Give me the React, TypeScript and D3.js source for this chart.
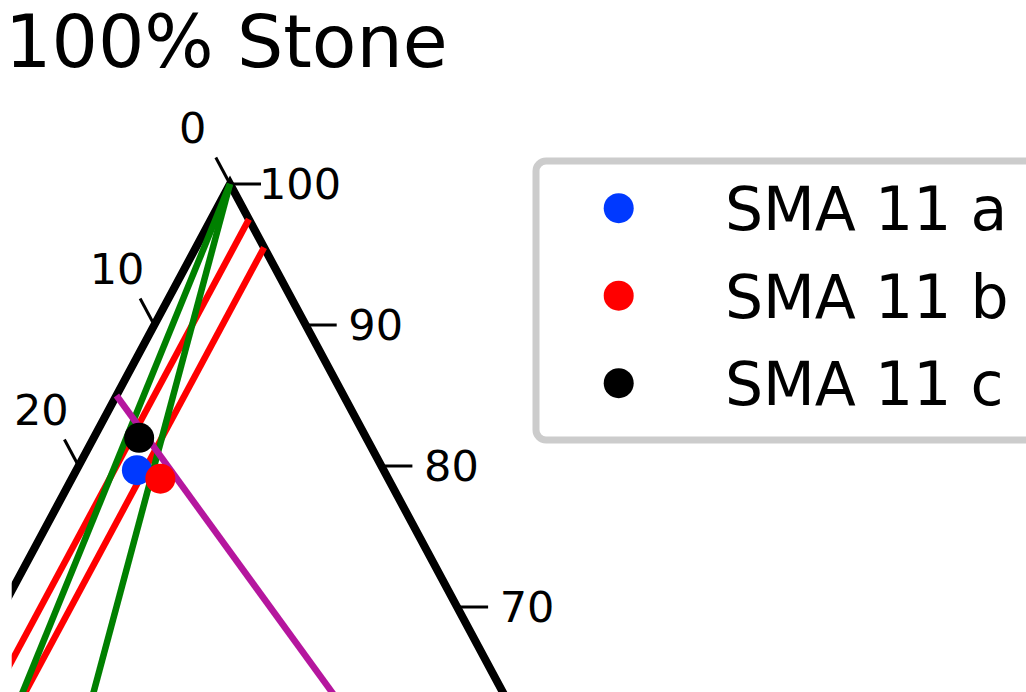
import React from "react";
import * as d3 from "d3";

// ---- data ----
const titleText = "100% Stone";
const sampleNames = ["SMA 11 a", "SMA 11 b", "SMA 11 c"];
const sampleColors = ["#0039ff", "#ff0000", "#000000"];
const sampleStone = [79.7, 79.1, 82.0]; // top component
const sampleLeft = [16.3, 15.1, 15.0]; // left component
const sampleRight = [4.0, 5.9, 3.0]; // right component

// constant right-component lines (red)
const redRightValues = [2.5, 4.5];
// lines from apex to bottom edge (green), right share at the bottom
const greenBottomRight = [12, 25];
// magenta line: from left edge point to right vertex
const magentaStart = { t: 85, l: 15, r: 0 };
const magentaEnd = { t: 0, l: 0, r: 100 };

// visible tick labels
const rightTickValues = [100, 90, 80, 70];
const leftTickValues = [0, 10, 20];

// ---- layout ----
const W = 1026;
const H = 692;
const apexX = 230;
const apexY = 184;
const unitH = 14.1;
const unitW = 7.57;
const clipLeft = 11.7;

const yScale = d3.scaleLinear().domain([100, 0]).range([apexY, apexY + 100 * unitH]);
const xScale = d3.scaleLinear().domain([-100, 100]).range([apexX - 100 * unitW, apexX + 100 * unitW]);
const proj = (t: number, l: number, r: number): [number, number] => [xScale(r - l), yScale(t)];

const line = d3.line<[number, number]>();

const FONT = "DejaVu Sans";

export default function App() {
  const tri = line([proj(100, 0, 0), proj(0, 100, 0), proj(0, 0, 100), proj(100, 0, 0)]) + "Z";
  const norm = Math.hypot(unitW, unitH);
  const ux = -unitW / norm;
  const uy = -unitH / norm;
  const tickLen = 30;

  return (
    <svg
      width={W}
      height={H}
      style={{ position: "absolute", left: 0, top: 0, display: "block", background: "#fff" }}
      fontFamily={FONT}
    >
      <defs>
        <clipPath id="plotClip">
          <rect x={clipLeft} y={0} width={W - clipLeft} height={H} />
        </clipPath>
      </defs>
      <rect x={0} y={0} width={W} height={H} fill="#fff" />
      <text x={5} y={67} fontSize={73} fill="#000">
        {titleText}
      </text>

      {/* ticks on right edge (stone) */}
      {rightTickValues.map((v) => {
        const [ex, ey] = proj(v, 0, 100 - v);
        return (
          <g key={"rt" + v}>
            <line x1={ex} y1={ey} x2={ex + tickLen + 1} y2={ey} stroke="#000" strokeWidth={3} />
            <text x={ex + 70} y={ey} fontSize={43} textAnchor="middle" dominantBaseline="central" fill="#000">
              {v}
            </text>
          </g>
        );
      })}
      {/* ticks on left edge */}
      {leftTickValues.map((v) => {
        const [ex, ey] = proj(100 - v, v, 0);
        return (
          <g key={"lt" + v}>
            <line x1={ex} y1={ey} x2={ex + ux * tickLen} y2={ey + uy * tickLen} stroke="#000" strokeWidth={3} />
            <text
              x={ex + ux * 64 - 7}
              y={ey + uy * 64}
              fontSize={43}
              textAnchor="middle"
              dominantBaseline="central"
              fill="#000"
            >
              {v}
            </text>
          </g>
        );
      })}

      <g clipPath="url(#plotClip)">
        <path d={tri} fill="none" stroke="#000" strokeWidth={8} strokeLinejoin="miter" />
        {redRightValues.map((r) => (
          <path
            key={"r" + r}
            d={line([proj(100 - r, 0, r), proj(0, 100 - r, r)]) || ""}
            stroke="#ff0000"
            strokeWidth={6.5}
            fill="none"
          />
        ))}
        {greenBottomRight.map((r) => (
          <path
            key={"g" + r}
            d={line([proj(100, 0, 0), proj(0, 100 - r, r)]) || ""}
            stroke="#008000"
            strokeWidth={6.5}
            fill="none"
          />
        ))}
        <path
          d={
            line([
              proj(magentaStart.t, magentaStart.l, magentaStart.r),
              proj(magentaEnd.t, magentaEnd.l, magentaEnd.r),
            ]) || ""
          }
          stroke="#b5169e"
          strokeWidth={6.5}
          fill="none"
        />
        {sampleNames.map((n, i) => {
          const [px, py] = proj(sampleStone[i], sampleLeft[i], sampleRight[i]);
          return <circle key={n} cx={px} cy={py} r={15} fill={sampleColors[i]} />;
        })}
      </g>

      {/* legend */}
      <rect x={536} y={161} width={500} height={279} rx={10} ry={10} fill="#fff" stroke="#cccccc" strokeWidth={7} />
      {sampleNames.map((n, i) => {
        const by = 230 + i * 87.5;
        return (
          <g key={"lg" + n}>
            <circle cx={618.7} cy={by - 21.8} r={15} fill={sampleColors[i]} />
            <text x={725} y={by} fontSize={60} fill="#000">
              {n}
            </text>
          </g>
        );
      })}
    </svg>
  );
}
